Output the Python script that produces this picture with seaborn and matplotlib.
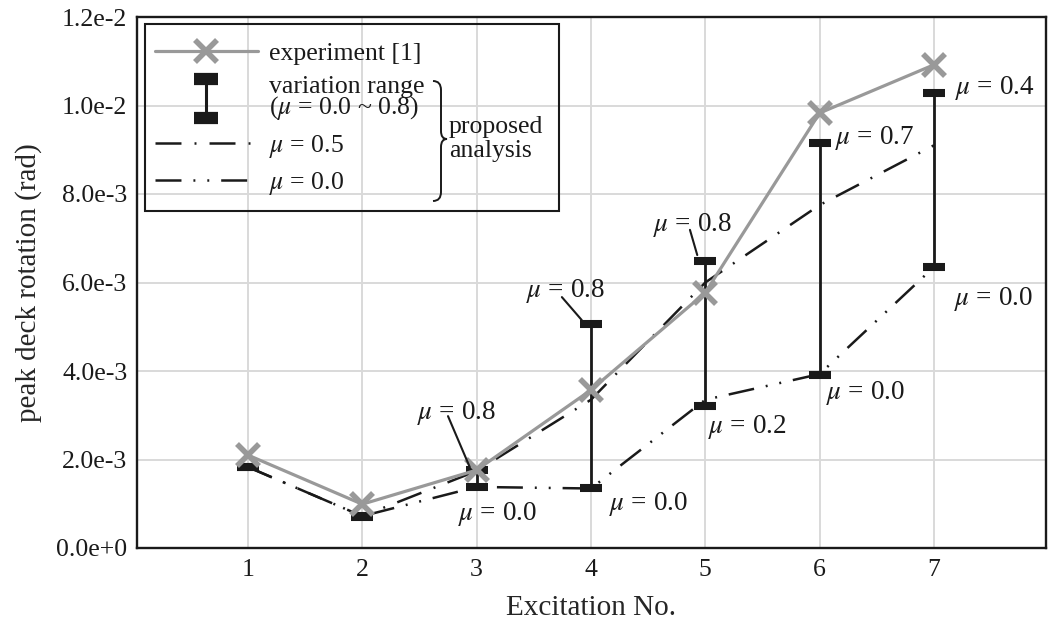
import numpy as np
import pandas as pd
import matplotlib
matplotlib.use("Agg")
import matplotlib.pyplot as plt
import seaborn as sns
from matplotlib.lines import Line2D
from matplotlib.legend_handler import HandlerBase
from matplotlib.patches import Rectangle, PathPatch
from matplotlib.path import Path

# ---------------- data ----------------
excitation = [1, 2, 3, 4, 5, 6, 7]
experiment = [2.10e-3, 0.99e-3, 1.76e-3, 3.57e-3, 5.77e-3, 9.83e-3, 10.92e-3]
range_low = [1.82e-3, 0.70e-3, 1.38e-3, 1.345e-3, 3.21e-3, 3.91e-3, 6.35e-3]
range_high = [1.84e-3, 0.73e-3, 1.76e-3, 5.07e-3, 6.49e-3, 9.16e-3, 10.28e-3]
mu_05 = [1.83e-3, 0.72e-3, 1.74e-3, 3.35e-3, 6.00e-3, 7.75e-3, 9.10e-3]
mu_00 = [1.83e-3, 0.72e-3, 1.38e-3, 1.345e-3, 3.35e-3, 3.93e-3, 6.35e-3]

ytick_values = [0.0, 2e-3, 4e-3, 6e-3, 8e-3, 10e-3, 12e-3]
ytick_labels = ["0.0e+0", "2.0e-3", "4.0e-3", "6.0e-3", "8.0e-3", "1.0e-2", "1.2e-2"]

# annotation labels: (text, x, y) in data units
range_labels = [
    ("$\\mu$ = 0.8", 2.82, 3.05e-3),
    ("$\\mu$ = 0.0", 3.18, 0.77e-3),
    ("$\\mu$ = 0.8", 3.78, 5.81e-3),
    ("$\\mu$ = 0.0", 4.50, 0.99e-3),
    ("$\\mu$ = 0.8", 4.89, 7.30e-3),
    ("$\\mu$ = 0.2", 5.37, 2.73e-3),
    ("$\\mu$ = 0.7", 6.48, 9.27e-3),
    ("$\\mu$ = 0.0", 6.40, 3.50e-3),
    ("$\\mu$ = 0.4", 7.53, 10.40e-3),
    ("$\\mu$ = 0.0", 7.52, 5.63e-3),
]
leaders = [
    ((2.75, 2.98e-3), (2.94, 1.83e-3)),
    ((3.746, 5.67e-3), (3.92, 5.15e-3)),
    ((4.866, 7.19e-3), (4.93, 6.62e-3)),
]

GRAY = "#999999"
BLACK = "#1a1a1a"
DASHDOT = (0, (18.7, 9.4, 1.4, 9.4))
DASHDOTDOT = (0, (18.7, 8.6, 1.4, 8.6, 1.4, 8.6))

sns.set_theme(style="white")
plt.rcParams["font.family"] = ["Liberation Serif", "DejaVu Serif"]
plt.rcParams["mathtext.fontset"] = "stix"
plt.rcParams["lines.scale_dashes"] = False
plt.rcParams["text.color"] = BLACK

fig = plt.figure(figsize=(10.48, 6.30), dpi=100)
ax = fig.add_axes([137 / 1048, 1 - 548 / 630, 909 / 1048, 531 / 630])

df = pd.DataFrame({"exc": excitation, "exp": experiment, "mu05": mu_05, "mu00": mu_00})

sns.lineplot(data=df, x="exc", y="mu05", ax=ax, color=BLACK, lw=1.8,
             linestyle=DASHDOT, zorder=3)
sns.lineplot(data=df, x="exc", y="mu00", ax=ax, color=BLACK, lw=1.8,
             linestyle=DASHDOTDOT, zorder=3)

low = np.array(range_low)
high = np.array(range_high)
ax.errorbar(excitation, low, yerr=[np.zeros_like(low), high - low], fmt="none",
            ecolor=BLACK, elinewidth=2.0, capsize=8, capthick=5.8, zorder=4)

sns.lineplot(data=df, x="exc", y="exp", ax=ax, color=GRAY, lw=2.3, marker="x",
             markersize=16, markeredgewidth=4.0, markeredgecolor=GRAY, zorder=5)

for txt, x, y in range_labels:
    ax.text(x, y, txt, fontsize=19.5, ha="center", va="center", zorder=6)
for (x0, y0), (x1, y1) in leaders:
    ax.annotate("", xy=(x1, y1), xytext=(x0, y0),
                arrowprops=dict(arrowstyle="-", color=BLACK, lw=1.5,
                                shrinkA=0, shrinkB=0), zorder=6)

ax.set_xlim(0.03, 7.98)
ax.set_ylim(0, 0.012)
ax.set_xticks(excitation)
ax.set_xticklabels([str(e) for e in excitation])
ax.set_yticks(ytick_values)
ax.set_yticklabels(ytick_labels)
ax.tick_params(axis="both", length=0, labelsize=18.5, colors=BLACK)
ax.tick_params(axis="y", pad=7)
ax.tick_params(axis="x", pad=8)
ax.grid(True, color="#d9d9d9", lw=1.4)
ax.set_axisbelow(True)
for s in ax.spines.values():
    s.set_color(BLACK)
    s.set_linewidth(1.7)

ax.set_xlabel("Excitation No.", fontsize=21)
ax.set_ylabel("peak deck rotation (rad)", fontsize=21)
ax.yaxis.set_label_coords(-0.105, 0.5)
ax.xaxis.set_label_coords(0.5, -0.088)


# ---------------- legend ----------------
class RangeHandle:
    pass


class RangeHandler(HandlerBase):
    def create_artists(self, legend, orig_handle, xdescent, ydescent, width,
                       height, fontsize, trans):
        cx = 0.5 * width - xdescent
        cy = 0.5 * height - ydescent
        half = 14.0
        stem = Line2D([cx, cx], [cy - half, cy + half], color=BLACK, lw=2.2)
        caps = Line2D([cx, cx], [cy - half, cy + half], ls="none", marker="_",
                      ms=17.5, mew=8.8, color=BLACK)
        stem.set_transform(trans)
        caps.set_transform(trans)
        return [stem, caps]


h_exp = Line2D([], [], color=GRAY, lw=2.3, marker="x", ms=16, mew=4.0)
h_rng = RangeHandle()
h_05 = Line2D([], [], color=BLACK, lw=1.8, linestyle=DASHDOT)
h_00 = Line2D([], [], color=BLACK, lw=1.8, linestyle=DASHDOTDOT)
leg = ax.legend([h_exp, h_rng, h_05, h_00],
                ["experiment [1]", "variation range\n($\\mu$ = 0.0 ~ 0.8)",
                 "$\\mu$ = 0.5", "$\\mu$ = 0.0"],
                handler_map={RangeHandle: RangeHandler()},
                loc="upper left", bbox_to_anchor=((155 - 137) / 909, (548 - 42) / 531),
                frameon=False, fontsize=18.5, handlelength=4.0, handletextpad=0.45,
                borderpad=0, borderaxespad=0, labelspacing=0.42)
leg.get_texts()[1].set_linespacing(0.8)


def fx(px):
    return (px - 137) / 909


def fy(py):
    return (548 - py) / 531


ax.add_patch(Rectangle((fx(145), fy(211)), fx(559) - fx(145), fy(24) - fy(211),
                       transform=ax.transAxes, fill=False, ec=BLACK, lw=1.5,
                       zorder=7, clip_on=False))

x0, x1, x2 = 433, 441, 447
top, mid, bot = 81, 139, 201
verts = [(x0, top), (x1, top), (x1, top + 9),
         (x1, mid - 8), (x1, mid), (x2, mid),
         (x1, mid), (x1, mid + 8),
         (x1, bot - 9), (x1, bot), (x0, bot)]
codes = [Path.MOVETO, Path.CURVE3, Path.CURVE3,
         Path.LINETO, Path.CURVE3, Path.CURVE3,
         Path.CURVE3, Path.CURVE3,
         Path.LINETO, Path.CURVE3, Path.CURVE3]
brace = Path([(fx(a), fy(b)) for a, b in verts], codes)
ax.add_patch(PathPatch(brace, transform=ax.transAxes, fill=False, ec=BLACK,
                       lw=1.4, zorder=7, clip_on=False))
ax.text(fx(449), fy(139), "proposed\nanalysis", transform=ax.transAxes,
        fontsize=18.5, ha="left", va="center", linespacing=1.1, zorder=7)

fig.savefig("out.png", dpi=100)
